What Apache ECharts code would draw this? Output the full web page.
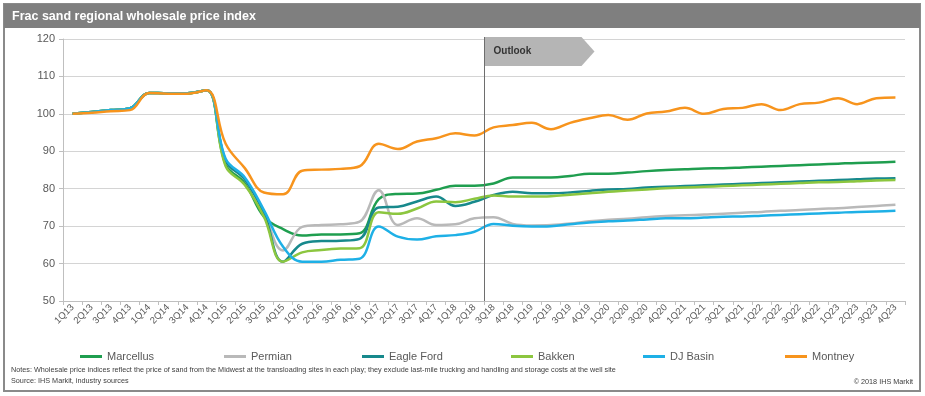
<!DOCTYPE html>
<html>
<head>
<meta charset="utf-8">
<script src="https://cdn.jsdelivr.net/npm/echarts@6/dist/echarts.min.js"></script>
<style>
  html, body { margin: 0; padding: 0; background: #fff; }
  #chart { width: 925px; height: 396px; }
</style>
</head>
<body>
<div id="chart"></div>
<script>
var quarters = ['1Q13','2Q13','3Q13','4Q13','1Q14','2Q14','3Q14','4Q14','1Q15','2Q15','3Q15','4Q15',
  '1Q16','2Q16','3Q16','4Q16','1Q17','2Q17','3Q17','4Q17','1Q18','2Q18','3Q18','4Q18',
  '1Q19','2Q19','3Q19','4Q19','1Q20','2Q20','3Q20','4Q20','1Q21','2Q21','3Q21','4Q21',
  '1Q22','2Q22','3Q22','4Q22','1Q23','2Q23','3Q23','4Q23'];

var marcellus = [100, 100.5, 101, 101.5, 105.6, 105.5, 105.5, 106.3, 86.5, 81.5, 72.5, 69.2,
  67.5, 67.8, 67.8, 68.1, 77.2, 78.6, 78.7, 79.7, 80.8, 80.8, 81.4, 83,
  83, 83, 83.4, 84, 84, 84.3, 84.7, 85, 85.2, 85.4, 85.5, 85.7,
  85.9, 86.1, 86.3, 86.5, 86.7, 86.9, 87.0, 87.2];
var permian = [100, 100.5, 101, 101.5, 105.6, 105.5, 105.5, 106.3, 87.5, 82.5, 73.5, 63.5,
  69.8, 70.3, 70.5, 71.2, 79.6, 70.3, 72.1, 70.3, 70.5, 72.1, 72.4, 70.6,
  70.2, 70.3, 70.7, 71.3, 71.7, 72, 72.4, 72.7, 72.9, 73.1, 73.3, 73.6,
  73.8, 74.1, 74.3, 74.6, 74.8, 75.1, 75.4, 75.7];
var eagleFord = [100, 100.5, 101, 101.5, 105.6, 105.5, 105.5, 106.3, 87.5, 82.5, 73.5, 60.5,
  65.3, 66, 66.1, 66.6, 75, 75.2, 76.6, 77.9, 75.4, 76.5, 78.3, 79.2,
  78.8, 78.8, 79, 79.4, 79.8, 79.9, 80.3, 80.5, 80.7, 80.9, 81.1, 81.3,
  81.5, 81.7, 81.9, 82.1, 82.3, 82.5, 82.7, 82.8];
var bakken = [100, 100.5, 101, 101.5, 105.6, 105.5, 105.5, 106.3, 86, 81, 72.5, 60.5,
  63, 63.6, 64, 64.1, 73.7, 73.3, 74.7, 76.6, 76.4, 77.3, 78.2, 77.9,
  77.9, 78, 78.4, 78.8, 79.2, 79.5, 79.8, 80.1, 80.3, 80.5, 80.7, 80.9,
  81.1, 81.3, 81.5, 81.7, 81.8, 82, 82.2, 82.3];
var djBasin = [100, 100.5, 101, 101.5, 105.6, 105.5, 105.5, 106.3, 88, 83, 74.3, 64.5,
  60.5, 60.5, 61, 61.3, 69.9, 67.2, 66.4, 67.3, 67.6, 68.5, 70.6, 70.1,
  69.9, 70, 70.5, 71, 71.3, 71.5, 71.8, 72.1, 72.1, 72.3, 72.5, 72.6,
  72.8, 73, 73.2, 73.4, 73.6, 73.8, 73.9, 74.1];
var montney = [100, 100.3, 100.7, 101, 105.6, 105.4, 105.4, 106.3, 92, 85.5, 79, 78.5,
  84.8, 85.1, 85.3, 86, 92, 90.6, 92.6, 93.5, 94.8, 94.2, 96.4, 97,
  97.6, 95.9, 97.6, 98.8, 99.7, 98.4, 100.1, 100.6, 101.6, 100, 101.3, 101.6,
  102.6, 101, 102.6, 103, 104.2, 102.6, 104.2, 104.4];

var seriesNames = ['Marcellus', 'Permian', 'Eagle Ford', 'Bakken', 'DJ Basin', 'Montney'];
var seriesData = [marcellus, permian, eagleFord, bakken, djBasin, montney];
var seriesColors = ['#1f9e4f', '#b9b9b9', '#17898c', '#8cc63f', '#1eb0e6', '#f7941d'];
var legendLeft = [80, 224, 362, 511, 643, 785];
var outlookAfter = '2Q18';

var font = 'Liberation Sans, Arial, sans-serif';
var chart = echarts.init(document.getElementById('chart'));

var series = [];
var legends = [];
for (var i = 0; i < seriesNames.length; i++) {
  series.push({
    name: seriesNames[i],
    type: 'line',
    data: seriesData[i],
    smooth: 0.4,
    showSymbol: false,
    symbol: 'none',
    lineStyle: { width: 2.5, color: seriesColors[i] },
    itemStyle: { color: seriesColors[i] }
  });
  legends.push({
    data: [seriesNames[i]],
    left: legendLeft[i] - 5,
    top: 346,
    icon: 'rect',
    itemWidth: 22,
    itemHeight: 3,
    textStyle: { color: '#595959', fontSize: 11, fontFamily: font }
  });
}

var option = {
  animation: false,
  backgroundColor: '#ffffff',
  legend: legends,
  grid: { left: 63, right: 20, top: 39, bottom: 95 },
  xAxis: {
    type: 'category',
    data: quarters,
    boundaryGap: true,
    axisLine: { lineStyle: { color: '#bfbfbf' } },
    axisTick: { show: true, length: 4, lineStyle: { color: '#bfbfbf' } },
    axisLabel: { interval: 0, rotate: 45, fontSize: 9.5, color: '#595959', margin: 5, fontFamily: font },
    splitLine: { show: false }
  },
  yAxis: {
    type: 'value',
    min: 50,
    max: 120,
    interval: 10,
    axisLine: { show: true, lineStyle: { color: '#bfbfbf' } },
    axisTick: { show: true, length: 4, lineStyle: { color: '#bfbfbf' } },
    axisLabel: { fontSize: 11, color: '#595959', margin: 8, fontFamily: font },
    splitLine: { lineStyle: { color: '#d4d4d4', width: 1 } }
  },
  series: series
};
chart.setOption(option);

// outlook divider sits on the tick between 2Q18 and 3Q18
var idx = quarters.indexOf(outlookAfter);
var ox = Math.round((chart.convertToPixel({ xAxisIndex: 0 }, idx) + chart.convertToPixel({ xAxisIndex: 0 }, idx + 1)) / 2) + 0.5;

chart.setOption({
  graphic: [
    { type: 'rect', shape: { x: 4, y: 4, width: 916, height: 387 }, style: { fill: 'none', stroke: '#8a8a8a', lineWidth: 2 }, silent: true },
    { type: 'rect', shape: { x: 4, y: 4, width: 916, height: 24 }, style: { fill: '#7f7f7f' }, silent: true },
    { type: 'text', left: 12, top: 10, style: { text: 'Frac sand regional wholesale price index', fill: '#ffffff', font: 'bold 12.5px ' + font } },
    { type: 'polygon', shape: { points: [[ox, 37], [ox + 97, 37], [ox + 110, 51.5], [ox + 97, 66], [ox, 66]] }, style: { fill: '#b5b5b5' }, z: 10 },
    { type: 'line', shape: { x1: ox, y1: 37, x2: ox, y2: 301 }, style: { stroke: '#6e6e6e', lineWidth: 1 }, z: 11 },
    { type: 'text', left: ox + 9, top: 46, style: { text: 'Outlook', fill: '#333333', font: 'bold 10px ' + font }, z: 12 },
    { type: 'text', left: 11, top: 366, style: { text: 'Notes: Wholesale price indices reflect the price of sand from the Midwest at the transloading sites in each play; they exclude last-mile trucking and handling and storage costs at the well site', fill: '#404040', font: '7.25px ' + font } },
    { type: 'text', left: 11, top: 377, style: { text: 'Source: IHS Markit, industry sources', fill: '#404040', font: '7.25px ' + font } },
    { type: 'text', right: 12, top: 378, style: { text: '\u00a9 2018 IHS Markit', fill: '#404040', font: '7.25px ' + font } }
  ]
});
</script>
</body>
</html>
